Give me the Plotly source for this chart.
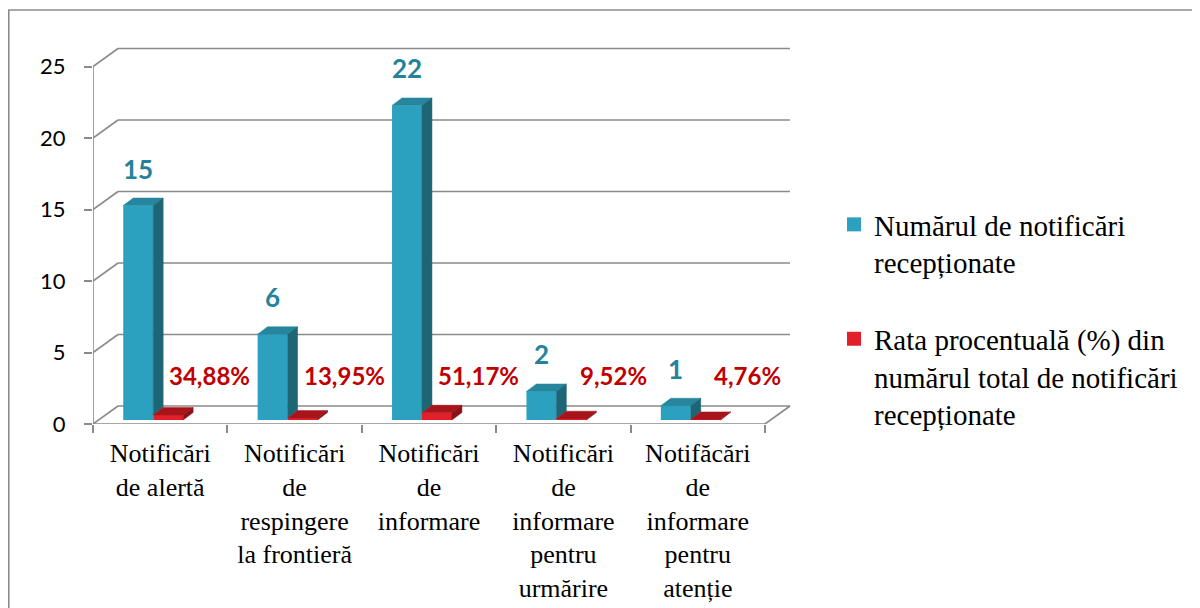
import plotly.graph_objects as go

# ---------------- data ----------------
categories = [
    "Notificări<br>de alertă",
    "Notificări<br>de<br>respingere<br>la frontieră",
    "Notificări<br>de<br>informare",
    "Notificări<br>de<br>informare<br>pentru<br>urmărire",
    "Notifăcări<br>de<br>informare<br>pentru<br>atenție",
]
counts = [15, 6, 22, 2, 1]
rates = [0.3488, 0.1395, 0.5117, 0.0952, 0.0476]
rate_labels = ["34,88%", "13,95%", "51,17%", "9,52%", "4,76%"]
series_names = [
    "Numărul de notificări<br>recepționate",
    "Rata procentuală (%) din<br>numărul total de notificări<br>recepționate",
]
y_ticks = [0, 5, 10, 15, 20, 25]

# ---------------- layout geometry (page has an 8px body margin) ----------------
OFF = 8
W, H = 1200 - OFF, 608 - OFF
ML, MT = 93 - OFF, 10 - OFF
PW, PH = 699, 414
MR, MB = W - ML - PW, H - MT - PH
X_UNIT = 134.4
Y_UNIT = 14.3
X0 = -0.5
X1 = X0 + PW / X_UNIT
Y1 = PH / Y_UNIT

BAR_W = 0.223
BLUE_OFF = -0.275
RED_OFF = BLUE_OFF + BAR_W
BASE = 0.28
DX, DY = 0.074, 0.52          # bar depth
DXB, DYB = 0.186, 1.26        # back-wall offset

BLUE_FRONT, BLUE_TOP, BLUE_SIDE = "#2BA1BF", "#25869D", "#1D6676"
RED_FRONT, RED_TOP, RED_SIDE = "#E1202A", "#A8141C", "#8C1017"
GRID = "#8A8A8A"
BLUE_LBL, RED_LBL = "#23839A", "#C00000"
SERIF = "'Liberation Serif', 'Times New Roman', Times, serif"
SANS = "Lato, 'Open Sans', sans-serif"

idx = list(range(len(categories)))

fig = go.Figure()

# front faces (library bars)
fig.add_trace(go.Bar(x=idx, y=counts, base=BASE, width=BAR_W, offset=BLUE_OFF,
                     marker=dict(color=BLUE_FRONT, line=dict(width=0)),
                     name=series_names[0], showlegend=False, hoverinfo="skip"))
fig.add_trace(go.Bar(x=idx, y=rates, base=BASE, width=BAR_W, offset=RED_OFF,
                     marker=dict(color=RED_FRONT, line=dict(width=0)),
                     name=series_names[1], showlegend=False, hoverinfo="skip"))


def faces(values, off, clip=None):
    tx, ty, sx, sy = [], [], [], []
    for i, v in zip(idx, values):
        xl = i + off
        xr = xl + BAR_W
        yt = BASE + v
        tx += [xl, xr, xr + DX, xl + DX, xl, None]
        ty += [yt, yt, yt + DY, yt + DY, yt, None]
        yb = BASE if clip is None else BASE + clip[i]
        sx += [xr, xr + DX, xr + DX, xr, xr, None]
        sy += [yb, yb + DY, yt + DY, yt, yb, None]
    return tx, ty, sx, sy


def poly(x, y, color):
    return go.Scatter(x=x, y=y, fill="toself", fillcolor=color, mode="lines",
                      line=dict(color=color, width=0.5), showlegend=False,
                      hoverinfo="skip")


btx, bty, bsx, bsy = faces(counts, BLUE_OFF, clip=rates)
rtx, rty, rsx, rsy = faces(rates, RED_OFF)
fig.add_trace(poly(btx, bty, BLUE_TOP))
fig.add_trace(poly(bsx, bsy, BLUE_SIDE))
fig.add_trace(poly(rtx, rty, RED_TOP))
fig.add_trace(poly(rsx, rsy, RED_SIDE))

# legend entries (square swatches)
for name, col, grp in [(series_names[0], BLUE_FRONT, "a"), (series_names[1], RED_FRONT, "b")]:
    fig.add_trace(go.Scatter(x=[None], y=[None], mode="markers", name=name,
                             legendgroup=grp,
                             marker=dict(symbol="square", size=14, color=col,
                                         line=dict(width=0))))

# ---------------- walls / gridlines ----------------
shapes = []
line = dict(color=GRID, width=1.6)
for t in y_ticks:
    shapes.append(dict(type="line", xref="x", yref="y", x0=X0 + DXB, y0=t + DYB,
                       x1=len(idx) - 0.5 + DXB, y1=t + DYB, line=line, layer="below"))
    shapes.append(dict(type="line", xref="x", yref="y", x0=X0, y0=t,
                       x1=X0 + DXB, y1=t + DYB, line=line, layer="below"))
shapes.append(dict(type="line", xref="x", yref="y", x0=X0, y0=0, x1=X0, y1=max(y_ticks),
                   line=line, layer="below"))
shapes.append(dict(type="line", xref="x", yref="y", x0=X0, y0=0, x1=len(idx) - 0.5, y1=0,
                   line=line, layer="below"))
shapes.append(dict(type="line", xref="x", yref="y", x0=len(idx) - 0.5, y0=0,
                   x1=len(idx) - 0.5 + DXB, y1=DYB, line=line, layer="below"))
# outer chart border (page x=8, y=10)
shapes.append(dict(type="rect", xref="paper", yref="paper",
                   x0=(8 - OFF + 0.8 - ML) / PW, x1=(W + 20 - ML) / PW,
                   y0=-(H + 20 - MT - PH) / PH, y1=(PH + MT - (10 - OFF)) / PH,
                   line=dict(color="#8C8C8C", width=1.6), fillcolor="rgba(0,0,0,0)",
                   layer="below"))

# ---------------- data labels ----------------
ann = []
for i, v in zip(idx, counts):
    ann.append(dict(x=i + BLUE_OFF + BAR_W / 2, y=BASE + v, xref="x", yref="y",
                    text=f"<b>{v}</b>", showarrow=False, yanchor="bottom", yshift=19,
                    font=dict(family=SANS, size=26, color=BLUE_LBL)))
for i, v, lab in zip(idx, rates, rate_labels):
    ann.append(dict(x=i + 0.37, y=BASE + 3.1, xref="x", yref="y",
                    text=f"<b>{lab}</b>", showarrow=False, yanchor="middle",
                    font=dict(family=SANS, size=24, color=RED_LBL)))

fig.update_layout(
    width=W, height=H,
    margin=dict(l=ML, r=MR, t=MT, b=MB, pad=0),
    paper_bgcolor="white", plot_bgcolor="rgba(0,0,0,0)",
    barmode="overlay",
    shapes=shapes, annotations=ann,
    xaxis=dict(range=[X0, X1], tickmode="array", tickvals=idx, ticktext=categories,
               ticks="", showline=False, showgrid=False, zeroline=False,
               ticklabelstandoff=11,
               tickfont=dict(family=SERIF, size=26, color="black"),
               minor=dict(tickmode="linear", tick0=-0.5, dtick=1, ticks="outside",
                          ticklen=8, tickwidth=1.6, tickcolor=GRID, showgrid=False)),
    yaxis=dict(range=[0, Y1], tickmode="array", tickvals=y_ticks, ticks="outside",
               ticklen=8, tickwidth=1.6, tickcolor=GRID, showline=False,
               showgrid=False, zeroline=False, ticklabelstandoff=14,
               tickfont=dict(family=SANS, size=22, color="black")),
    legend=dict(x=(834 - OFF - ML) / PW, y=(MT + PH - (199 - OFF)) / PH,
                xanchor="left", yanchor="top",
                font=dict(family=SERIF, size=29, color="black"),
                valign="top", tracegroupgap=36, bgcolor="rgba(0,0,0,0)",
                traceorder="grouped", itemwidth=30),
    showlegend=True,
)

fig.write_html("out.html")
